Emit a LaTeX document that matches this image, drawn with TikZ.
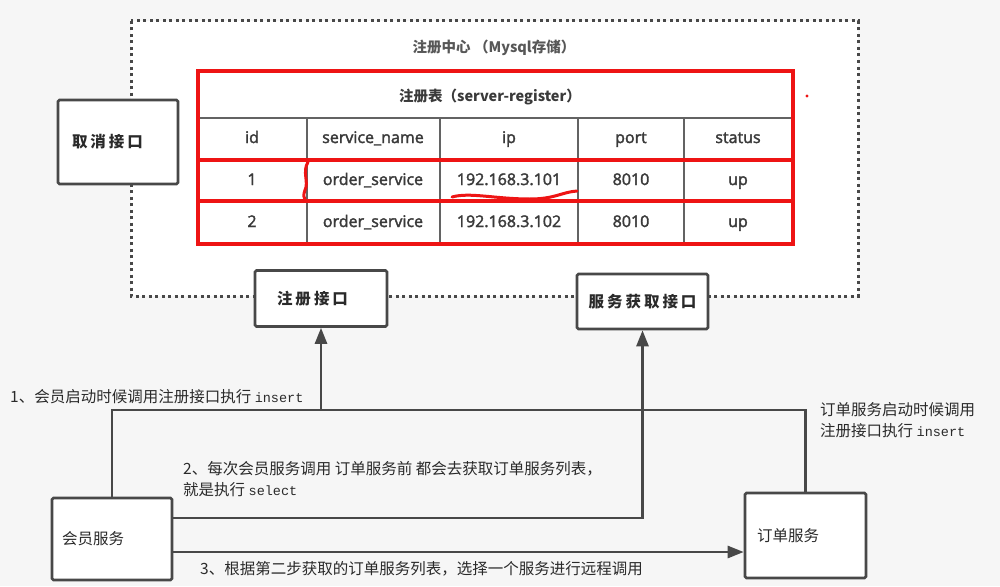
\documentclass[tikz,border=0pt]{standalone}
\usepackage{fontspec}
\usetikzlibrary{arrows.meta,calc}
\setmainfont{Open Sans}
\newfontfamily\cellf[FakeBold=2.2]{Open Sans}
\newfontfamily\cjk{Noto Sans CJK SC}
\newfontfamily\mono{Liberation Mono}
\definecolor{ln}{HTML}{484848}
\definecolor{tx}{HTML}{2A2A2A}
\definecolor{gtx}{HTML}{3A3A3A}
\definecolor{rd}{HTML}{EE1414}
\definecolor{bg}{HTML}{F6F6F6}
\newcommand{\lbl}{\cjk\fontsize{15.5}{21}\selectfont}
\newcommand{\ifc}{\cjk\bfseries\fontsize{15.5}{18}\selectfont}
\newcommand{\cell}{\cellf\fontsize{16}{18}\selectfont}
\newcommand{\ms}[1]{{\mono\fontsize{13.5}{15}\selectfont #1}}
\tikzset{
  box/.style={draw=ln, line width=2.6pt, fill=white, rounded corners=1.5pt, inner sep=0pt, text=tx},
  ifbox/.style={box, font=\ifc},
  svc/.style={box, font=\lbl},
  conn/.style={draw=ln, line width=2.6pt},
  arr/.style={conn, -{Triangle[length=16pt,width=12pt]}},
  note/.style={font=\lbl, text=tx, inner sep=0pt, anchor=west, align=left},
  cellt/.style={font=\cell, text=gtx, inner sep=0pt, text height=11.5pt, text depth=3.5pt},
  grid/.style={draw=ln!85, line width=2.2pt},
  redl/.style={draw=rd, line width=4pt},
}
\begin{document}
\begin{tikzpicture}[x=1pt,y=-1pt]
\useasboundingbox (0,0) rectangle (1000,586);
\fill[bg] (0,0) rectangle (1000,586);
% registry dotted area
\fill[white] (131,21) rectangle (858,296);
\draw[ln, line width=3pt, dash pattern=on 3pt off 3.5pt] (131,21) rectangle (858,296);
\node[font=\cjk\bfseries\fontsize{14.5}{16}\selectfont, text=gtx!85, inner sep=0pt] (title) at (494,48) {注册中心 （Mysql存储）};
% table
\fill[white] (198,71) rectangle (793,244);
\draw[grid] (198,118) -- (793,118);
\foreach \x in {307,440,578,684} \draw[grid] (\x,118) -- (\x,244);
\draw[redl] (198,160) -- (793,160);
\draw[redl] (198,201) -- (793,201);
\draw[redl] (198,71) rectangle (793,244);
\node[font=\cjk\bfseries\fontsize{14.5}{16}\selectfont, text=gtx, inner sep=0pt] (thead) at (490,97) {注册表（server-register）};
\node[cellt] (c1) at (252,139) {id};
\node[cellt] (c2) at (373,139) {service\_name};
\node[cellt] (c3) at (509,139) {ip};
\node[cellt] (c4) at (631,139) {port};
\node[cellt] (c5) at (738,139) {status};
\node[cellt] (r11) at (252,181) {1};
\node[cellt] (r12) at (373,181) {order\_service};
\node[cellt] (r13) at (509,181) {192.168.3.101};
\node[cellt] (r14) at (631,181) {8010};
\node[cellt] (r15) at (738,181) {up};
\node[cellt] (r21) at (252,223) {2};
\node[cellt] (r22) at (373,223) {order\_service};
\node[cellt] (r23) at (509,223) {192.168.3.102};
\node[cellt] (r24) at (631,223) {8010};
\node[cellt] (r25) at (738,223) {up};
% red hand marks
\draw[rd, line width=3pt, line cap=round] (308,162) .. controls (302,172) and (309,182) .. (305,190) .. controls (303,195) and (304,198) .. (305,200);
\draw[rd, line width=3pt, line cap=round] (452,197) .. controls (470,192) and (495,199) .. (530,199) .. controls (555,199) and (562,192) .. (577,191);
\fill[rd] (807,96) circle (1.6);
% interface boxes
\node[ifbox, minimum width=120pt, minimum height=84pt, text width=92pt, align=left] (cancel) at (118,142) {取\hspace{3pt}消\hspace{3pt}接\hspace{3pt}口};
\node[ifbox, minimum width=132pt, minimum height=56pt, text width=88pt, align=left] (reg) at (321,298.5) {注\hspace{3pt}册\hspace{3pt}接\hspace{3pt}口};
\node[ifbox, minimum width=131pt, minimum height=55pt] (fetch) at (642.5,301.5) {服\hspace{3pt}务\hspace{3pt}获\hspace{3pt}取\hspace{3pt}接\hspace{3pt}口};
% services
\node[svc, minimum width=120pt, minimum height=82pt, text width=100pt, align=left] (member) at (112,539) {会员服务};
\node[svc, minimum width=121pt, minimum height=85pt, text width=97pt, align=left] (order) at (805.5,535.5) {订单服务\\[4pt]};
% connectors
\coordinate (j1) at (321,410);
\draw[conn] (order.north) |- (j1);
\draw[arr] (member.north) |- (j1) -- (reg.south);
\draw[arr] ([yshift=21pt]member.east) -| (fetch.south);
\draw[arr] ([yshift=-13pt]member.east) -- ([yshift=-13pt]member.east -| order.west);
% notes
\node[note] (n1) at (10,397) {1、会员启动时候调用注册接口执行 \ms{insert}};
\node[note] (n2) at (183,479) {2、每次会员服务调用 订单服务前 都会去获取订单服务列表，\\就是执行 \ms{select}};
\node[note] (n3) at (200,569) {3、根据第二步获取的订单服务列表，选择一个服务进行远程调用};
\node[note] (n4) at (820,420) {订单服务启动时候调用\\注册接口执行 \ms{insert}};
\end{tikzpicture}
\end{document}
